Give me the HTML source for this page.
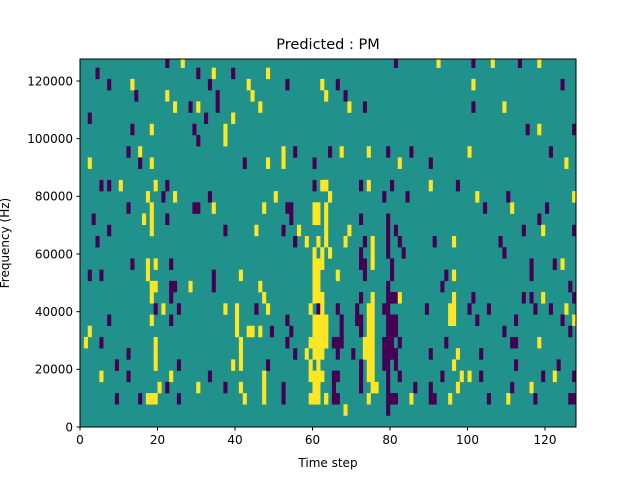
<!DOCTYPE html>
<html><head><meta charset="utf-8"><style>
body{margin:0;background:#fff;width:640px;height:480px;overflow:hidden;font-family:"Liberation Sans","DejaVu Sans",sans-serif}
svg text{font-family:"DejaVu Sans","Liberation Sans",sans-serif;fill:#000}
</style></head><body>
<svg id="s" width="640" height="480" xmlns="http://www.w3.org/2000/svg">
<defs><clipPath id="c"><rect x="80" y="59" width="496" height="368"/></clipPath></defs>
<rect x="80" y="59" width="496" height="368" fill="#21918c"/>
<g id="cells" clip-path="url(#c)"></g>
<rect x="80" y="59" width="496" height="368" fill="none" stroke="#000" stroke-width="1"/>
<text x="328" y="49" font-size="14.5" text-anchor="middle">Predicted : PM</text>
<text x="328" y="467" font-size="12" text-anchor="middle">Time step</text>
<text transform="translate(9,243) rotate(-90)" font-size="12" text-anchor="middle">Frequency (Hz)</text>
<g id="ax" font-size="12"></g>
</svg>
<script>
var D={
0:["22,81,101,113","26,92,106,118"],
1:["4,30,39","34,48"],
2:["7,33,53,66,124","13,43,62,101"],
3:["14,35,68","22,44,63"],
4:["28,35,73,101","24,30,46,69,109"],
5:["2,32","39"],
6:["13,29,115,127","18,37,118"],
7:["30","37"],
8:["12,55,64,79,85,121","15,52,67,74,100"],
9:["15,42,60,90","2,18,48,52,82,125"],
11:["5,7,22,60,72,80,97","10,19,62,63,63,74,90"],
12:["21,33,78,84,110","17,24,50,64,102,127"],
13:["12,29,30,53,54,104,120","18,34,47,60,61,63,111"],
14:["3,22,54,72,79,118","16,18,60,61,63"],
15:["7,37,52,79,81,114,127","18,45,56,63,69,119"],
16:["4,55,73,79,82,91,108","58,61,63,68,75,96"],
17:["72,79,83,109","60,62,64,75"],
18:["13,23,72,73,80,116,122","17,19,60,61,62,75,124"],
19:["2,5,34,73,80,94,116","17,41,60,61,66,96"],
20:["23,24,34,79,93,126","18,19,28,46,60,61"],
21:["23,72,79,80,81,101,114,116,127","18,47,60,61,62,75,82,96,119"],
22:["19,25,45,61,66,71,78,79,89,100,105,117,121","21,37,40,48,59,62,74,75,95,96,125"],
23:["7,23,53,67,71,72,79,80,81,102,112,124","18,40,60,61,62,63,63,74,75,95,96,127"],
24:["49,54,67,72,79,80,81,109,126","2,40,43,44,46,60,61,62,63,63,74,75"],
25:["5,53,65,66,67,78,79,80,82,94,111,112","1,19,41,59,60,61,62,63,63,73,74,75,118"],
26:["12,55,66,70,78,79,80,81,90,103","19,41,58,60,61,62,73,74,75,97"],
27:["9,25,48,72,78,79,81,112,123","19,39,41,59,61,74,75,96"],
28:["12,33,65,66,72,79,82,93,103,119,127","5,23,47,59,60,61,62,74,75,98,100,122"],
29:["22,37,52,65,72,79,86,90,111","20,30,41,47,60,61,75,76,97,116"],
30:["9,15,25,52,65,66,79,80,81,90,91,105,117,126,127","17,18,19,42,47,59,60,61,63,63,74,85,95,110"],
31:["79","68"]
};
var g=document.getElementById('cells'),h='';
for(var r in D){var y=56.45+11.22*r;
 [["#440154",D[r][0]],["#fde725",D[r][1]]].forEach(function(p){if(!p[1])return;
  p[1].split(',').forEach(function(c){c=+c;h+='<rect x="'+(80+c*3.875).toFixed(2)+'" y="'+y.toFixed(2)+'" width="4.1" height="11.5" fill="'+p[0]+'"/>';});});}
g.innerHTML=h;
var a='';
[0,20,40,60,80,100,120].forEach(function(t){var x=80+t*3.875;a+='<line x1="'+x+'" y1="427" x2="'+x+'" y2="430.5" stroke="#000"/><text x="'+x+'" y="444" text-anchor="middle">'+t+'</text>';});
[0,20000,40000,60000,80000,100000,120000].forEach(function(v){var y=427-v*346/120000;a+='<line x1="76.5" y1="'+y+'" x2="80" y2="'+y+'" stroke="#000"/><text x="73" y="'+(y+4.3)+'" text-anchor="end">'+v+'</text>';});
document.getElementById('ax').innerHTML=a;
</script>
</body></html>
